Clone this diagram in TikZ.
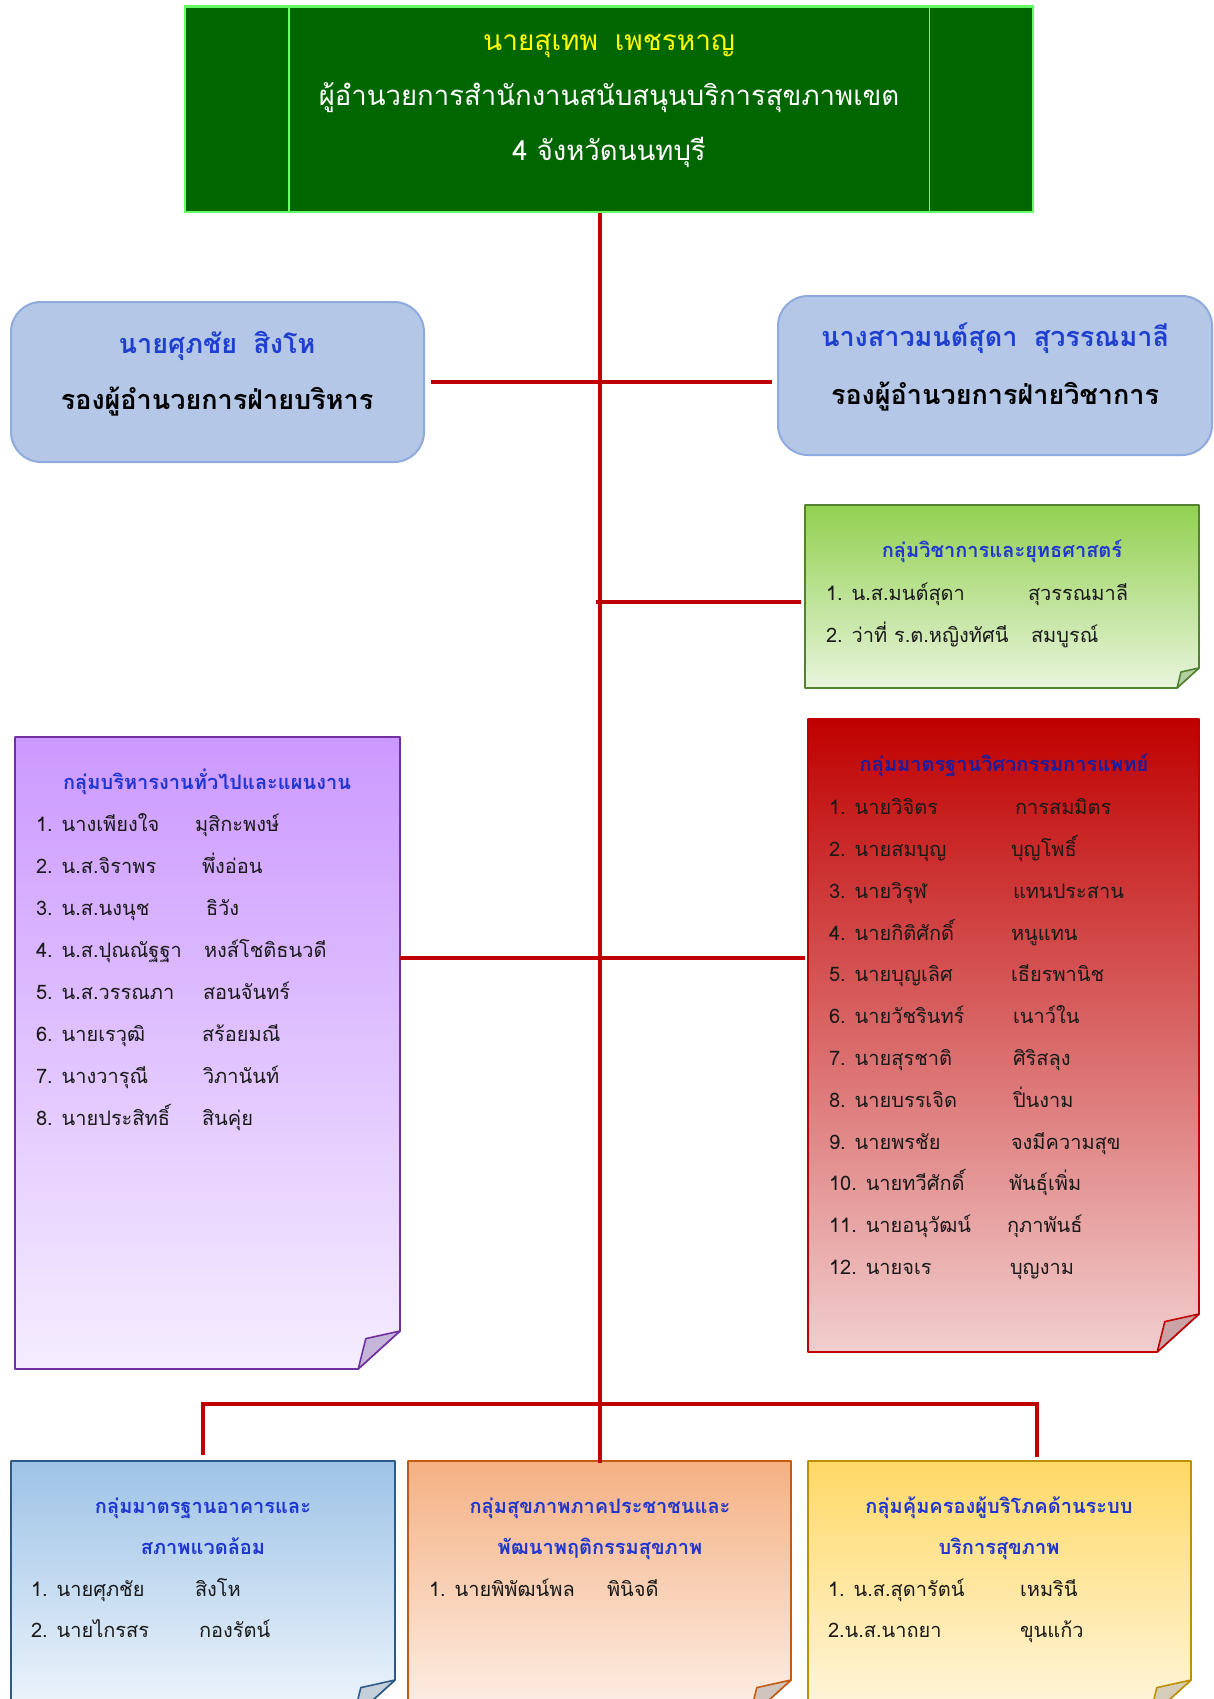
\documentclass[tikz,border=0pt]{standalone}
\usepackage{fontspec}
\setmainfont{Loma}[Script=Thai]
\usetikzlibrary{calc,fit}
\definecolor{topGreen}{HTML}{006600}
\definecolor{topEdge}{HTML}{66FF66}
\definecolor{topYellow}{HTML}{FFFF00}
\definecolor{lineRed}{HTML}{C00000}
\definecolor{rbFill}{HTML}{B4C7E7}
\definecolor{rbEdge}{HTML}{8FAADC}
\definecolor{nameBlue}{HTML}{1F3FD0}
\definecolor{ttlBlue}{HTML}{2036D0}
\definecolor{ttlNavy}{HTML}{1C1C9C}
\definecolor{txtDark}{HTML}{1A1A1A}
% notes
\definecolor{gTop}{HTML}{92D050}\definecolor{gMid}{HTML}{BCE29E}\definecolor{gBot}{HTML}{E8F4DC}\definecolor{gEdge}{HTML}{548235}\definecolor{gFold}{HTML}{B4CFA0}
\definecolor{pTop}{HTML}{CC99FF}\definecolor{pMid}{HTML}{E0C4FF}\definecolor{pBot}{HTML}{F5EDFF}\definecolor{pEdge}{HTML}{7030A0}\definecolor{pFold}{HTML}{C4B5D9}
\definecolor{rTop}{HTML}{C00000}\definecolor{rMid}{HTML}{D78585}\definecolor{rBot}{HTML}{F2CECE}\definecolor{rEdge}{HTML}{C00000}\definecolor{rFold}{HTML}{C9A3A6}
\definecolor{bTop}{HTML}{9DC3E6}\definecolor{bMid}{HTML}{C6DCF0}\definecolor{bBot}{HTML}{F0F6FC}\definecolor{bEdge}{HTML}{2E5A87}\definecolor{bFold}{HTML}{C5CFDA}
\definecolor{oTop}{HTML}{F4B183}\definecolor{oMid}{HTML}{F8D0B5}\definecolor{oBot}{HTML}{FDF0E8}\definecolor{oEdge}{HTML}{C55A11}\definecolor{oFold}{HTML}{CFC5BE}
\definecolor{yTop}{HTML}{FFD966}\definecolor{yMid}{HTML}{FFE8A3}\definecolor{yBot}{HTML}{FFF6E0}\definecolor{yEdge}{HTML}{BF9000}\definecolor{yFold}{HTML}{D5CDB8}

\tikzset{
  redline/.style={draw=lineRed, line width=4pt},
  tx/.style={inner sep=0pt, outer sep=0pt, text height=1.47em, text depth=0.12em},
  itm/.style={tx, anchor=west, text=txtDark, font=\fontsize{20}{24}\selectfont},
  ntitle/.style={tx, text=ttlBlue, font=\bfseries\fontsize{20}{24}\selectfont},
  frame/.style={inner sep=0pt, outer sep=0pt},
  rbox/.style={draw=rbEdge, fill=rbFill, line width=2pt, rounded corners=30pt, inner sep=0pt},
  dname/.style={tx, text=nameBlue, font=\bfseries\fontsize{27}{30}\selectfont},
  drole/.style={tx, text=black, font=\bfseries\fontsize{27}{30}\selectfont},
}

\newcommand{\drawnote}[7]{%
  \path[top color=#2, middle color=#3, bottom color=#4, draw=#5, line width=1.6pt, line join=round]
    (#1.north west) -- (#1.north east) -- ($(#1.south east)+(0,-#7)$)
    -- ($(#1.south east)+(-1.1*#7,0)$) -- (#1.south west) -- cycle;
  \path[fill=#6, draw=#5, line width=1.6pt, line join=round]
    ($(#1.south east)+(0,-#7)$) -- ($(#1.south east)+(-0.9*#7,-0.8*#7)$)
    -- ($(#1.south east)+(-1.1*#7,0)$) -- cycle;}

\begin{document}
\begin{tikzpicture}[x=1pt,y=-1pt]
\useasboundingbox (0,0) rectangle (1214,1699);
\fill[white] (0,0) rectangle (1214,1699);

% ---------- top box
\node[draw=topEdge, fill=topGreen, line width=2.5pt, minimum width=848pt, minimum height=205pt, inner sep=0pt] (top) at (609,109.25) {};
\draw[topEdge, line width=1.5pt] ([xshift=105pt]top.north west) -- ([xshift=105pt]top.south west);
\draw[topEdge, line width=1.5pt] ([xshift=-105pt]top.north east) -- ([xshift=-105pt]top.south east);
\node[tx, text=topYellow, font=\fontsize{28}{30}\selectfont] (tname) at (609,44) {นายสุเทพ\hspace{0.6em}เพชรหาญ};
\node[tx, text=white, font=\fontsize{27.5}{30}\selectfont] (ttitle) at (609,99) {ผู้อำนวยการสำนักงานสนับสนุนบริการสุขภาพเขต};
\node[tx, text=white, font=\fontsize{27.5}{30}\selectfont] (tprov) at (609,154) {4 จังหวัดนนทบุรี};

% ---------- deputy boxes
\node[rbox, minimum width=413pt, minimum height=160pt] (dl) at (217.5,382) {};
\node[dname] (dln) at (217,347) {นายศุภชัย\hspace{0.6em}สิงโห};
\node[drole] (dlr) at (217,403) {รองผู้อำนวยการฝ่ายบริหาร};

\node[rbox, minimum width=434pt, minimum height=159pt] (dr) at (995,375.5) {};
\node[dname] (drn) at (995,340) {นางสาวมนต์สุดา\hspace{0.6em}สุวรรณมาลี};
\node[drole] (drr) at (995,398) {รองผู้อำนวยการฝ่ายวิชาการ};

% ---------- note frames
\node[frame, fit={(805,505) (1199,688)}] (green) {};
\node[frame, fit={(15,737) (400,1369)}] (purple) {};
\node[frame, fit={(808,719) (1199,1352)}] (red) {};
\node[frame, fit={(11,1461) (395,1718)}] (blue) {};
\node[frame, fit={(408,1461) (791,1718)}] (orange) {};
\node[frame, fit={(808,1461) (1191,1718)}] (yellow) {};

\drawnote{green}{gTop}{gMid}{gBot}{gEdge}{gFold}{20}
\drawnote{purple}{pTop}{pMid}{pBot}{pEdge}{pFold}{38}
\drawnote{red}{rTop}{rMid}{rBot}{rEdge}{rFold}{38}
\drawnote{blue}{bTop}{bMid}{bBot}{bEdge}{bFold}{38}
\drawnote{orange}{oTop}{oMid}{oBot}{oEdge}{oFold}{38}
\drawnote{yellow}{yTop}{yMid}{yBot}{yEdge}{yFold}{38}

% ---------- connectors
\coordinate (prj) at (0,958);
\coordinate (bus) at (0,1404);
\coordinate (rdrop) at (1037,1457);
\draw[redline] (orange.north |- top.south) -- ([yshift=-2pt]orange.north);
\draw[redline] ([xshift=6pt]dl.east) -- ([xshift=-5pt]dl.east -| dr.west);
\draw[redline] ([xshift=-4pt,yshift=-5pt]green.west -| orange.north) -- ([xshift=-4pt,yshift=-5pt]green.west);
\draw[redline] (purple.east |- prj) -- ([xshift=-3pt]red.west |- prj);
\draw[redline] ([yshift=6pt]blue.north) -- (blue.north |- bus) -- (rdrop |- bus) -- (rdrop);

% ---------- green note text
\node[ntitle] (gt) at (1002,551) {กลุ่มวิชาการและยุทธศาสตร์};
\node[itm] (ga1) at (826,594) {1. น.ส.มนต์สุดา};
\node[itm] (gb1) at (1028,594) {สุวรรณมาลี};
\node[itm] (ga2) at (826,636) {2. ว่าที่ ร.ต.หญิงทัศนี};
\node[itm] (gb2) at (1031,636) {สมบูรณ์};

% ---------- purple note text
\node[ntitle] (pt) at (207,783) {กลุ่มบริหารงานทั่วไปและแผนงาน};
\foreach \i/\sx/\a/\b in {
  1/195/{1. นางเพียงใจ}/{มุสิกะพงษ์},
  2/202/{2. น.ส.จิราพร}/{พึ่งอ่อน},
  3/206/{3. น.ส.นงนุช}/{ธิวัง},
  4/204/{4. น.ส.ปุณณัฐฐา}/{หงส์โชติธนวดี},
  5/203/{5. น.ส.วรรณภา}/{สอนจันทร์},
  6/202/{6. นายเรวุฒิ}/{สร้อยมณี},
  7/203/{7. นางวารุณี}/{วิภานันท์},
  8/202/{8. นายประสิทธิ์}/{สินคุ่ย}}{
  \node[itm] (pa\i) at (36,{825+42*(\i-1)}) {\a};
  \node[itm] (pb\i) at (\sx,{825+42*(\i-1)}) {\b};
}

% ---------- red note text
\node[ntitle, text=ttlNavy] (rt) at (1004,765) {กลุ่มมาตรฐานวิศวกรรมการแพทย์};
\foreach \i/\sx/\a/\b in {
  1/1015/{1. นายวิจิตร}/{การสมมิตร},
  2/1011/{2. นายสมบุญ}/{บุญโพธิ์},
  3/1013/{3. นายวิรุฬ}/{แทนประสาน},
  4/1011/{4. นายกิติศักดิ์}/{หนูแทน},
  5/1011/{5. นายบุญเลิศ}/{เธียรพานิช},
  6/1013/{6. นายวัชรินทร์}/{เนาว์ใน},
  7/1013/{7. นายสุรชาติ}/{ศิริสลุง},
  8/1013/{8. นายบรรเจิด}/{ปิ่นงาม},
  9/1011/{9. นายพรชัย}/{จงมีความสุข},
  10/1009/{10. นายทวีศักดิ์}/{พันธุ์เพิ่ม},
  11/1007/{11. นายอนุวัฒน์}/{กุภาพันธ์},
  12/1010/{12. นายจเร}/{บุญงาม}}{
  \node[itm] (ra\i) at (829,{808+41.8*(\i-1)}) {\a};
  \node[itm] (rb\i) at (\sx,{808+41.8*(\i-1)}) {\b};
}

% ---------- blue note text
\node[ntitle] (bt1) at (203,1507) {กลุ่มมาตรฐานอาคารและ};
\node[ntitle] (bt2) at (203,1548) {สภาพแวดล้อม};
\node[itm] (ba1) at (31,1590) {1. นายศุภชัย};
\node[itm] (bb1) at (195,1590) {สิงโห};
\node[itm] (ba2) at (31,1631) {2. นายไกรสร};
\node[itm] (bb2) at (199,1631) {กองรัตน์};

% ---------- orange note text
\node[ntitle] (ot1) at (600,1507) {กลุ่มสุขภาพภาคประชาชนและ};
\node[ntitle] (ot2) at (600,1548) {พัฒนาพฤติกรรมสุขภาพ};
\node[itm] (oa1) at (429,1590) {1. นายพิพัฒน์พล};
\node[itm] (ob1) at (607,1590) {พินิจดี};

% ---------- yellow note text
\node[ntitle] (yt1) at (999,1507) {กลุ่มคุ้มครองผู้บริโภคด้านระบบ};
\node[ntitle] (yt2) at (999,1548) {บริการสุขภาพ};
\node[itm] (ya1) at (828,1590) {1. น.ส.สุดารัตน์};
\node[itm] (yb1) at (1020,1590) {เหมรินี};
\node[itm] (ya2) at (828,1631) {2.น.ส.นาถยา};
\node[itm] (yb2) at (1020,1631) {ขุนแก้ว};
\end{tikzpicture}
\end{document}
